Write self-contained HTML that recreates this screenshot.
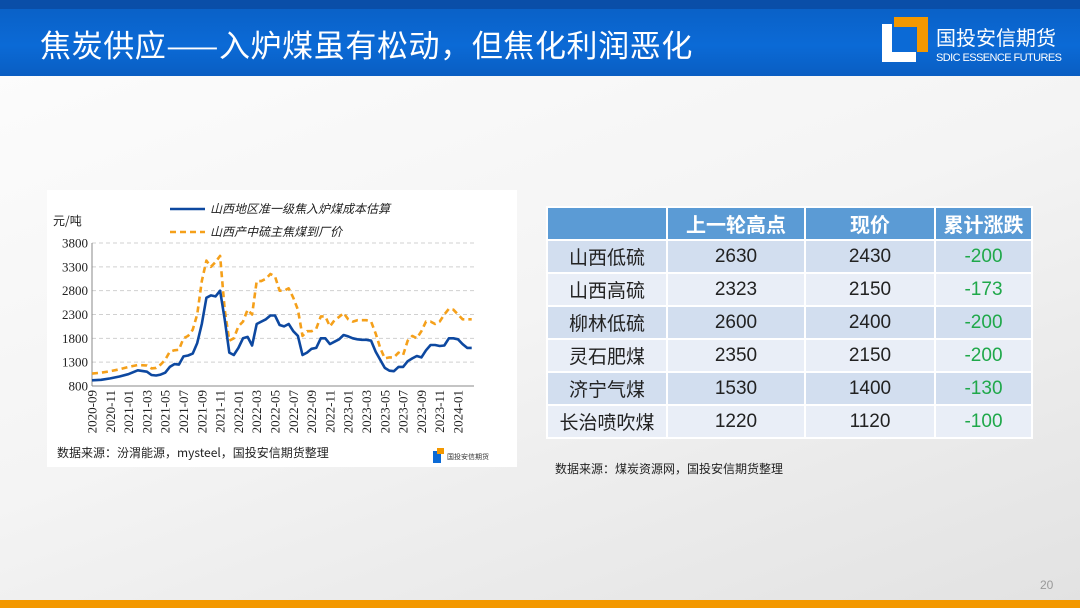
<!DOCTYPE html>
<html><head><meta charset="utf-8">
<style>
body{margin:0;width:1080px;height:608px;overflow:hidden;font-family:"Liberation Sans","Noto Sans CJK SC",sans-serif;background:linear-gradient(160deg,#fdfdfd 0%,#f4f4f4 50%,#e2e2e2 100%);position:relative}
.hdr{position:absolute;left:0;top:0;width:1080px;height:76px;background:linear-gradient(180deg,#0a5fc4,#0b6ad6 60%,#0a5ec2)}
.hdr .strip{position:absolute;left:0;top:0;width:1080px;height:9px;background:#0a4ea8}
.title{position:absolute;left:40px;top:22px;color:#fff;font-size:31px;font-family:"Noto Sans CJK SC",sans-serif;line-height:44px;letter-spacing:0.6px}
.panel{position:absolute;left:47px;top:190px;width:470px;height:277px;background:#fff}
table{position:absolute;left:546px;top:206px;border-collapse:collapse;font-family:"Liberation Sans","Noto Sans CJK SC",sans-serif}
td,th{border:2px solid #fff;text-align:center;padding:0;height:31px;font-size:19px;color:#222;font-weight:normal}
th{background:#5b9bd5;color:#fff;font-weight:bold;font-size:20px}
tr.a td{background:#d2deef}
tr.b td{background:#e9eef7}
td.g{color:#1fa84a}
.src{position:absolute;font-size:12px;color:#222;font-family:"Noto Sans CJK SC",sans-serif}
.foot{position:absolute;left:0;top:600px;width:1080px;height:8px;background:#f39800}
</style></head><body>
<div class="hdr"><div class="strip"></div>
<div class="title">焦炭供应——入炉煤虽有松动，但焦化利润恶化</div>
<svg style="position:absolute;left:880px;top:16px" width="200" height="50">
<rect x="2" y="8" width="34" height="38" fill="#fff"/><rect x="12" y="8" width="24" height="28" fill="#0b6ad6"/>
<polygon points="14,1 48,1 48,36 37,36 37,11 14,11" fill="#f39800"/>
<text x="56" y="29" font-size="20" fill="#fff" font-family="Noto Sans CJK SC,sans-serif">国投安信期货</text>
<text x="56" y="45" font-size="11" fill="#fff" font-family="Liberation Sans,sans-serif" textLength="126">SDIC ESSENCE FUTURES</text></svg>
</div>
<div class="panel"></div>
<svg id="chart" style="position:absolute;left:0;top:0" width="1080" height="608"></svg>
<div class="src" style="left:57px;top:444px">数据来源：汾渭能源，mysteel，国投安信期货整理</div>
<table>
<tr><th style="width:118px"></th><th style="width:136px">上一轮高点</th><th style="width:128px">现价</th><th style="width:95px">累计涨跌</th></tr>
<tr class="a"><td>山西低硫</td><td>2630</td><td>2430</td><td class="g">-200</td></tr>
<tr class="b"><td>山西高硫</td><td>2323</td><td>2150</td><td class="g">-173</td></tr>
<tr class="a"><td>柳林低硫</td><td>2600</td><td>2400</td><td class="g">-200</td></tr>
<tr class="b"><td>灵石肥煤</td><td>2350</td><td>2150</td><td class="g">-200</td></tr>
<tr class="a"><td>济宁气煤</td><td>1530</td><td>1400</td><td class="g">-130</td></tr>
<tr class="b"><td>长治喷吹煤</td><td>1220</td><td>1120</td><td class="g">-100</td></tr>
</table>
<div class="src" style="left:555px;top:460px">数据来源：煤炭资源网，国投安信期货整理</div>
<div style="position:absolute;left:1040px;top:578px;font-size:12px;color:#999">20</div>
<div class="foot"></div>
<script>
const months=[0,1,2,3,4,5,6,6.5,7,7.5,8,8.5,9,9.5,10,10.5,11,11.5,12,12.5,13,13.5,14,14.5,15,15.5,16,16.5,17,17.5,18,18.5,19,19.5,20,20.5,21,21.5,22,22.5,23,23.5,24,24.5,25,25.5,26,26.5,27,27.5,28,28.5,29,29.5,30,30.5,31,31.5,32,32.5,33,33.5,34,34.5,35,35.5,36,36.5,37,37.5,38,38.5,39,39.5,40,40.5,41,41.5];
const costVals=[920,930,960,1000,1050,1130,1100,1030,1020,1040,1080,1200,1260,1250,1420,1440,1480,1700,2100,2650,2700,2680,2800,2200,1500,1450,1600,1800,1830,1650,2100,2150,2200,2280,2280,2080,2050,2100,1950,1850,1450,1500,1580,1600,1800,1800,1680,1730,1780,1870,1840,1800,1780,1770,1770,1750,1520,1350,1180,1120,1110,1200,1200,1320,1380,1430,1400,1550,1660,1660,1640,1650,1800,1800,1780,1680,1600,1600];
const priceVals=[1060,1080,1110,1150,1200,1240,1230,1170,1180,1250,1350,1520,1550,1560,1800,1850,1980,2300,3000,3430,3300,3400,3530,2400,1750,1800,2050,2150,2400,2300,3000,3000,3050,3150,3100,2800,2800,2850,2650,2400,1850,1950,1950,2000,2260,2260,2050,2180,2250,2330,2200,2150,2180,2180,2180,2150,1900,1600,1380,1400,1400,1500,1450,1750,1850,1800,1950,2150,2150,2100,2150,2300,2420,2400,2300,2200,2200,2200];
const yTicks=[800,1300,1800,2300,2800,3300,3800];
const xLabels=["2020-09","2020-11","2021-01","2021-03","2021-05","2021-07","2021-09","2021-11","2022-01","2022-03","2022-05","2022-07","2022-09","2022-11","2023-01","2023-03","2023-05","2023-07","2023-09","2023-11","2024-01"];
const svg=document.getElementById('chart');const NS='http://www.w3.org/2000/svg';
const X0=92,XM=9.15,Y0=386,YT=243;
const xs=m=>X0+m*XM, ys=v=>Y0-(v-800)/3000*(Y0-YT);
function mk(t,a,p){const e=document.createElementNS(NS,t);for(const k in a)e.setAttribute(k,a[k]);(p||svg).appendChild(e);return e;}
yTicks.forEach(v=>{
 const l=mk('line',{x1:X0,x2:474,y1:ys(v),y2:ys(v),stroke:v==800?'#888':'#d0d0d0','stroke-dasharray':v==800?'':'4,3'});
 
 
 const t=mk('text',{x:X0-4,y:ys(v)+4.5,'text-anchor':'end','font-size':13,'font-family':'Liberation Serif,serif',fill:'#222'});t.textContent=v;
 
 
});
const ax=mk('line',{x1:X0,x2:X0,y1:YT,y2:Y0,stroke:'#888'});


xLabels.forEach((s,i)=>{const x=xs(i*2);
 const t=mk('text',{x:0,y:0,transform:`translate(${x+4.5},${Y0+4}) rotate(-90)`,'text-anchor':'end','font-size':13,'font-family':'Liberation Serif,serif',fill:'#222'});t.textContent=s;
 
 
});
const yt=mk('text',{x:53,y:225,'font-size':12,fill:'#222','font-family':'Noto Sans CJK SC,sans-serif'});yt.textContent='元/吨';


function line(vals,st,dash,name){const d=vals.map((v,i)=>(i?'L':'M')+xs(months[i]).toFixed(1)+','+ys(v).toFixed(1)).join('');
 const p=mk('path',{d:d,fill:'none',stroke:st,'stroke-width':2.6,'stroke-dasharray':dash,'stroke-linejoin':'round'});
 
 }
line(priceVals,'#f5a01a','6,4','series-coking-coal-price');
line(costVals,'#0d48a0','','series-cost-estimate');
const lg=[['#0d48a0','','山西地区准一级焦入炉煤成本估算',209],['#f5a01a','6,4','山西产中硫主焦煤到厂价',232]];
lg.forEach(g=>{const l=mk('line',{x1:170,x2:205,y1:g[3],y2:g[3],stroke:g[0],'stroke-width':2.6,'stroke-dasharray':g[1]});
 
 
 const t=mk('text',{x:210,y:g[3]+4,'font-size':12,'font-style':'italic',fill:'#222','font-family':'Noto Sans CJK SC,sans-serif'});t.textContent=g[2];
 
 });
const lo=mk('g',{});
mk('rect',{x:433,y:451,width:8,height:12,fill:'#0b6ad6'},lo);mk('rect',{x:437,y:448,width:7,height:6,fill:'#f39800'},lo);
const lt=mk('text',{x:447,y:459,'font-size':7,fill:'#333','font-family':'Noto Sans CJK SC,sans-serif'},lo);lt.textContent='国投安信期货';
</script>
</body></html>
